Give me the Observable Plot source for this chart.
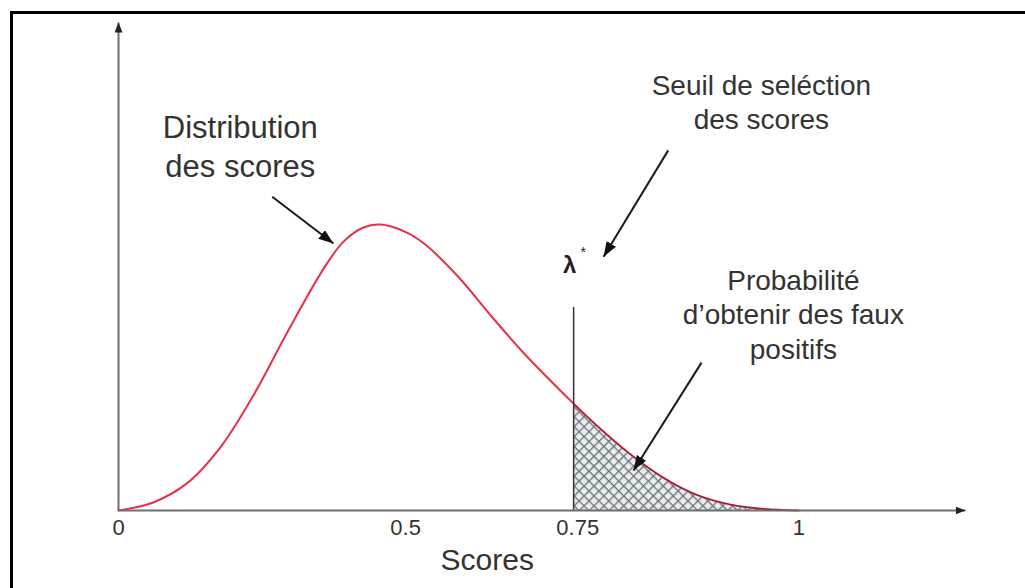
<!DOCTYPE html>
<html>
<head>
<meta charset="utf-8">
<script src="https://cdn.jsdelivr.net/npm/d3@7"></script>
<script src="https://cdn.jsdelivr.net/npm/@observablehq/plot@0.6"></script>
<style>
  body { margin: 0; background: #fff; }
  #wrap { position: relative; width: 1025px; height: 588px; overflow: hidden; background: #fff; }
  #frame { position: absolute; left: 10px; top: 11px; right: -10px; bottom: -10px;
           border-left: 3px solid #000; border-top: 3px solid #000; pointer-events: none; }
  #wrap svg { display: block; }
</style>
</head>
<body>
<div id="wrap"><div id="frame"></div></div>
<script>
// ---- data (schematic score distribution) ----
const scoreX  = [0, 0.05, 0.10, 0.15, 0.20, 0.25, 0.30, 0.33, 0.36, 0.385, 0.42, 0.45, 0.50,
                 0.55, 0.60, 0.65, 0.669, 0.70, 0.75, 0.80, 0.85, 0.90, 0.95, 1.0];
const density = [0, 0.016, 0.055, 0.130, 0.240, 0.370, 0.492, 0.550, 0.580, 0.586, 0.572, 0.546, 0.478,
                 0.395, 0.316, 0.245, 0.219, 0.178, 0.118, 0.068, 0.032, 0.012, 0.003, 0];

const threshold = 0.669;      // λ* position
const thresholdTop = 0.416;   // height of the threshold line

const tickPos    = [0, 0.422, 0.675, 1.0];
const tickLabels = ["0", "0.5", "0.75", "1"];

const axisTitle = ["Scores"];
const axisTitleX = [0.542];

const annotationText = ["Distribution\ndes scores", "Seuil de seléction\ndes scores", "Probabilité\nd’obtenir des faux\npositifs"];
const annotationX = [0.179, 0.945, 0.992];
const annotationY = [0.818, 0.902, 0.502];
const annotationSize = [31, 28, 28];

const arrowX1 = [0.226, 0.808, 0.857];
const arrowY1 = [0.643, 0.738, 0.303];
const arrowX2 = [0.316, 0.713, 0.757];
const arrowY2 = [0.547, 0.520, 0.082];

const xMax = 1.245;

// ---- tables built from the arrays ----
const curve = scoreX.map((x, i) => ({x, y: density[i]}));
const tail = curve.filter(d => d.x >= threshold);
const labelMap = new Map(tickPos.map((p, i) => [p, tickLabels[i]]));
const annotations = annotationText.map((t, i) => ({text: t, x: annotationX[i], y: annotationY[i], size: annotationSize[i]}));
const arrows = arrowX1.map((x1, i) => ({x1, y1: arrowY1[i], x2: arrowX2[i], y2: arrowY2[i]}));
const axes = [{x1: 0, y1: 0, x2: xMax, y2: 0}, {x1: 0, y1: 0, x2: 0, y2: 1}];

const font = "'Liberation Sans', Arial, Helvetica, sans-serif";
const AXIS_STROKE = "#6e6e6e";
const ARROW_STROKE = "#1a1a1a";

const svg = Plot.plot({
  width: 1025,
  height: 588,
  marginLeft: 118,
  marginRight: 60,
  marginTop: 22,
  marginBottom: 78,
  style: {fontFamily: font, background: "transparent", color: "#333"},
  x: {domain: [0, xMax], axis: null},
  y: {domain: [0, 1], axis: null},
  marks: [
    // hatched tail area
    Plot.areaY(tail, {x: "x", y: "y", fill: "url(#hatch)", curve: "catmull-rom"}),
    // distribution curve
    Plot.line(curve, {x: "x", y: "y", stroke: "#e8304a", strokeWidth: 2, curve: "catmull-rom"}),
    // dark outline of the tail area
    Plot.line(tail, {x: "x", y: "y", stroke: "#3a2226", strokeWidth: 1, strokeOpacity: 0.75, curve: "catmull-rom"}),
    // threshold line
    Plot.ruleX([threshold], {y1: 0, y2: thresholdTop, stroke: "#333", strokeWidth: 1.5}),
    // axes with arrowheads
    Plot.link(axes, {x1: "x1", y1: "y1", x2: "x2", y2: "y2", stroke: AXIS_STROKE, strokeWidth: 2}),
    Plot.axisX({ticks: tickPos, tickFormat: d => labelMap.get(d), tickSize: 0, tickPadding: 9,
                fontSize: 22, fill: "#333", label: null}),
    Plot.text(axisTitle, {x: axisTitleX, frameAnchor: "bottom", dy: 38, lineAnchor: "top",
                          fontSize: 30, fill: "#333", text: d => d}),
    // threshold label λ*
    Plot.text(["λ"], {x: [threshold - 0.006], y: [0.522], text: d => d, lineAnchor: "top", fontSize: 24,
                      fill: "#222", fontWeight: 600}),
    Plot.text(["*"], {x: [threshold + 0.014], y: [0.540], text: d => d, lineAnchor: "top", fontSize: 14, fill: "#222"}),
    // annotations
    ...annotations.map(a => Plot.text([a], {x: "x", y: "y", text: "text", lineAnchor: "top",
                          fontSize: a.size, lineHeight: 1.23, fill: "#333"})),
    Plot.link(arrows, {x1: "x1", y1: "y1", x2: "x2", y2: "y2", stroke: ARROW_STROKE, strokeWidth: 2})
  ]
});

// defs: hatch pattern + arrowheads
const sel = d3.select(svg);
const defs = sel.insert("defs", ":first-child");
const pat = defs.append("pattern").attr("id", "hatch").attr("patternUnits", "userSpaceOnUse")
  .attr("width", 7).attr("height", 7).attr("patternTransform", "rotate(45)");
pat.append("rect").attr("width", 7).attr("height", 7).attr("fill", "#e9edee");
pat.append("line").attr("x1", 0).attr("y1", 0).attr("x2", 7).attr("y2", 0).attr("stroke", "#67737a").attr("stroke-width", 2.6);
pat.append("line").attr("x1", 0).attr("y1", 0).attr("x2", 0).attr("y2", 7).attr("stroke", "#67737a").attr("stroke-width", 2.6);

function head(id, len, wid, color) {
  const m = defs.append("marker").attr("id", id).attr("viewBox", `0 0 ${len} ${wid}`)
    .attr("refX", len).attr("refY", wid / 2).attr("markerWidth", len).attr("markerHeight", wid)
    .attr("markerUnits", "userSpaceOnUse").attr("orient", "auto");
  m.append("path").attr("d", `M0,0L${len},${wid / 2}L0,${wid}Z`).attr("fill", color);
}
head("headBig", 15, 11, "#111");
head("headSmall", 10, 8, "#222");

svg.querySelectorAll("path, line").forEach(el => {
  const g = el.closest("g[stroke]");
  const s = (el.getAttribute("stroke") || (g && g.getAttribute("stroke")) || "").toLowerCase();
  if (s === ARROW_STROKE) el.setAttribute("marker-end", "url(#headBig)");
  else if (s === AXIS_STROKE) el.setAttribute("marker-end", "url(#headSmall)");
});

document.getElementById("wrap").prepend(svg);
</script>
</body>
</html>
